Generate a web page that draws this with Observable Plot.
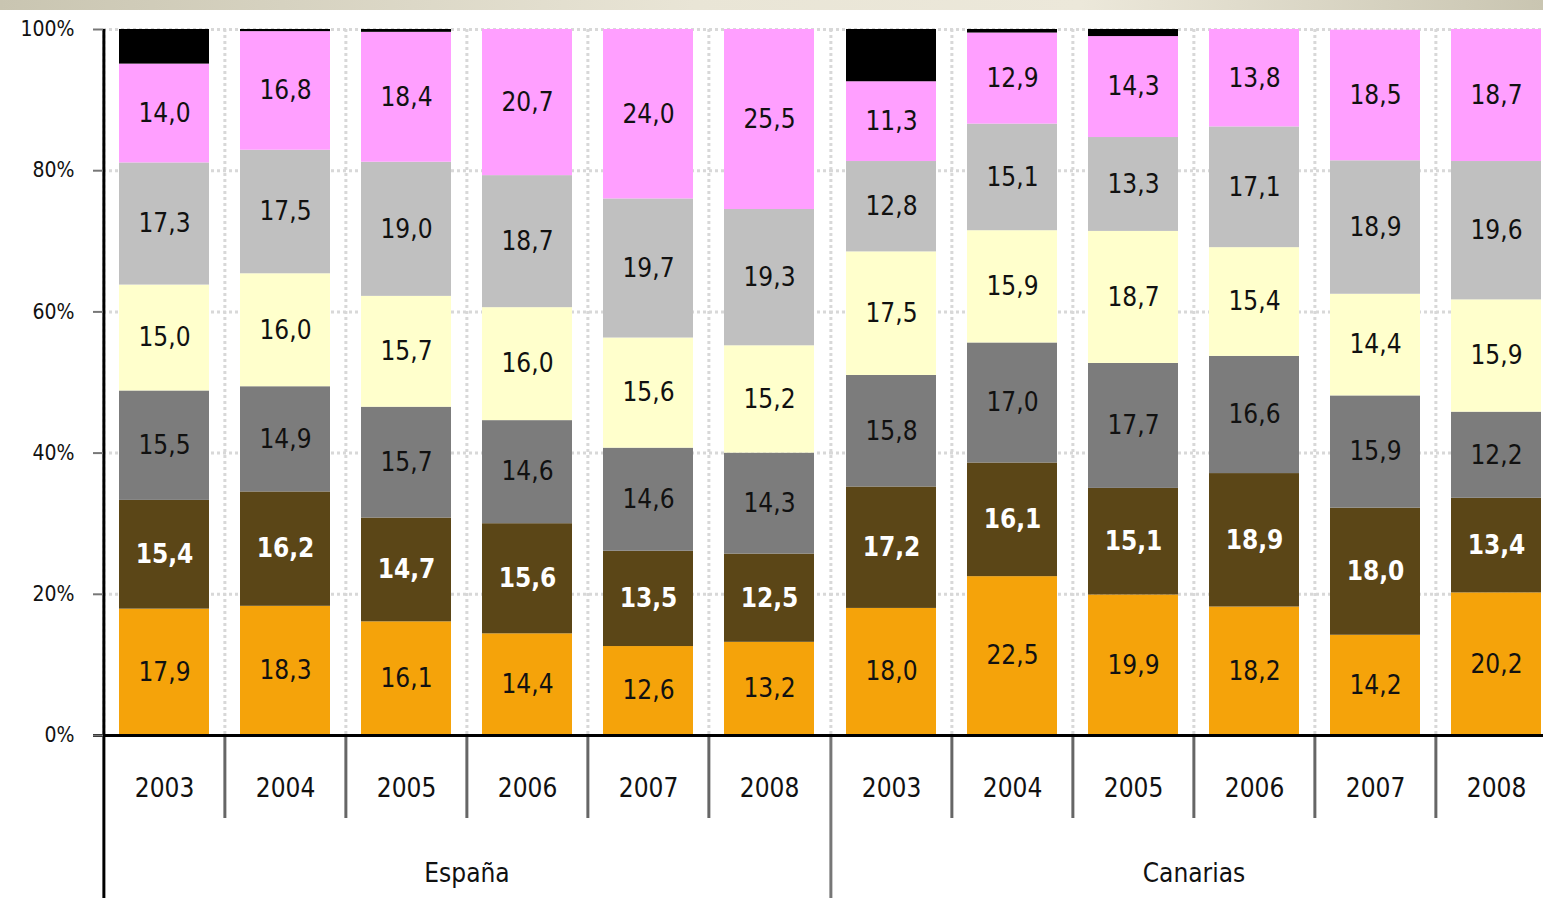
<!DOCTYPE html>
<html><head><meta charset="utf-8">
<script src="https://cdn.jsdelivr.net/npm/d3@7"></script>
<script src="https://cdn.jsdelivr.net/npm/@observablehq/plot@0.6"></script>
<style>
body{margin:0;background:#fff;overflow:hidden}
#band{height:10px;background:linear-gradient(to right,#c9c5b1,#e9e5d6 45%,#ece8da 70%,#c9c5b1)}
#chart svg{display:block}
</style></head><body><div id="band"></div><div id="chart"></div>
<script>
const regions = ["España", "Canarias"];
const years = ["2003", "2004", "2005", "2006", "2007", "2008"];
const series = ["s1", "s2", "s3", "s4", "s5", "s6", "s7"];
const colors = ["#F5A30A", "#5B4617", "#7C7C7C", "#FFFFCC", "#C0C0C0", "#FF9FFF", "#000000"];

// values per series: [España 2003..2008, Canarias 2003..2008]
const s1 = [17.9, 18.3, 16.1, 14.4, 12.6, 13.2, 18.0, 22.5, 19.9, 18.2, 14.2, 20.2];
const s2 = [15.4, 16.2, 14.7, 15.6, 13.5, 12.5, 17.2, 16.1, 15.1, 18.9, 18.0, 13.4];
const s3 = [15.5, 14.9, 15.7, 14.6, 14.6, 14.3, 15.8, 17.0, 17.7, 16.6, 15.9, 12.2];
const s4 = [15.0, 16.0, 15.7, 16.0, 15.6, 15.2, 17.5, 15.9, 18.7, 15.4, 14.4, 15.9];
const s5 = [17.3, 17.5, 19.0, 18.7, 19.7, 19.3, 12.8, 15.1, 13.3, 17.1, 18.9, 19.6];
const s6 = [14.0, 16.8, 18.4, 20.7, 24.0, 25.5, 11.3, 12.9, 14.3, 13.8, 18.5, 18.7];
const s7 = [4.9, 0.7, 0.7, 0, 0, 0, 7.4, 0.7, 1.3, 0, 0, 0];
const seriesValues = [s1, s2, s3, s4, s5, s6, s7];

const data = [];
regions.forEach((region, r) => {
  years.forEach((year, yi) => {
    series.forEach((s, si) => {
      data.push({region, year, series: s, value: seriesValues[si][r * years.length + yi]});
    });
  });
});

const seps = [];
regions.forEach(region => years.forEach(year => seps.push({region, year})));

// the plot area continues slightly past the right edge of the picture
const W = 1543, H = 888, ML = 102, MT = 19, MB = 163, FX_END = 1557;
const step = (FX_END - ML) / (regions.length * years.length);
const frameH = H - MT - MB;
const fmt = v => v.toFixed(1).replace(".", ",");
const FONT = '"DejaVu Sans Condensed", "DejaVu Sans", sans-serif';

const chart = Plot.plot({
  width: W, height: H,
  marginLeft: ML, marginRight: 0, marginTop: MT, marginBottom: MB,
  fx: {domain: regions, range: [ML, FX_END], padding: 0, axis: null, label: null},
  x: {domain: years, paddingInner: 0.26, paddingOuter: 0.13, axis: null, label: null},
  y: {domain: [0, 100], axis: null, label: null},
  color: {domain: series, range: colors},
  style: {fontFamily: FONT, background: "white", color: "#111"},
  marks: [
    Plot.gridY([20, 40, 60, 80, 100], {stroke: "#d8d8d8", strokeOpacity: 1, strokeWidth: 3, strokeDasharray: "3,3"}),
    Plot.ruleX(seps, {fx: "region", x: "year", dx: -step / 2, stroke: "#d8d8d8", strokeWidth: 3, strokeDasharray: "3,3"}),
    Plot.barY(data, Plot.stackY({fx: "region", x: "year", y: "value", fill: "series", clip: true})),
    Plot.text(data, Plot.stackY({
      fx: "region", x: "year", y: "value", z: "series",
      text: d => (d.series === "s7" || d.series === "s2") ? "" : fmt(d.value),
      fill: "#111", fontSize: 26
    })),
    Plot.text(data, Plot.stackY({
      fx: "region", x: "year", y: "value", z: "series",
      text: d => d.series === "s2" ? fmt(d.value) : "",
      fill: "white", fontSize: 26, fontWeight: "bold"
    })),
    // separators below the axis
    Plot.ruleX(seps.filter(d => d.year !== "2003"), {fx: "region", x: "year", dx: -step / 2, stroke: "#666", strokeWidth: 3, insetTop: frameH, insetBottom: -83}),
    Plot.ruleX(seps.filter(d => d.year === "2003" && d.region === "Canarias"), {fx: "region", x: "year", dx: -step / 2, stroke: "#777", strokeWidth: 3, insetTop: frameH, insetBottom: -MB}),
    Plot.ruleX(seps.filter(d => d.year === "2003" && d.region === "España"), {fx: "region", x: "year", dx: -step / 2, stroke: "#000", strokeWidth: 3, insetBottom: -MB}),
    Plot.ruleY([0], {stroke: "#000", strokeWidth: 3, insetLeft: -10}),
    Plot.axisY({ticks: [0, 20, 40, 60, 80, 100], tickFormat: d => d + "%", tickSize: 10, tickPadding: 19, fontSize: 21, stroke: "#777", strokeWidth: 2}),
    Plot.axisX({anchor: "bottom", tickSize: 0, tickPadding: 43, fontSize: 26}),
    Plot.text(regions, {fx: d => d, text: d => d, frameAnchor: "bottom", dy: 146, fontSize: 26})
  ]
});
document.getElementById("chart").appendChild(chart);
</script>
</body></html>
